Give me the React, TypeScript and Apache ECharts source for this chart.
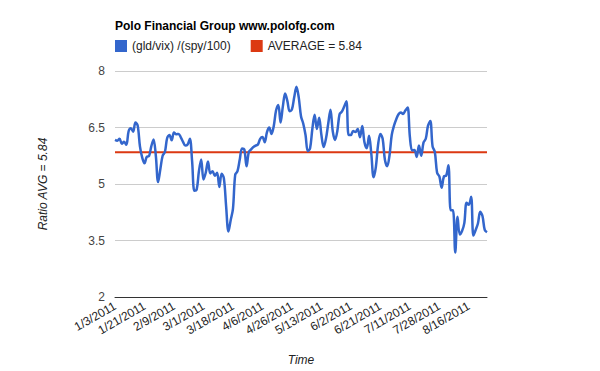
import React, { useEffect, useRef } from "react";
import * as echarts from "echarts";

const TITLE = "Polo Financial Group www.polofg.com";
const SERIES_NAME = "(gld/vix) /(spy/100)";
const AVG_NAME = "AVERAGE = 5.84";
const AVG = 5.84;
const Y_TICKS = [2, 3.5, 5, 6.5, 8];
const HOLIDAYS = ["1/17/2011", "2/21/2011", "4/22/2011", "5/30/2011", "7/4/2011"];

// trading days 1/3/2011 .. 8/26/2011
function tradingDays(): string[] {
  const out: string[] = [];
  const d = new Date(2011, 0, 3);
  const end = new Date(2011, 7, 26);
  while (d <= end) {
    const wd = d.getDay();
    const s = `${d.getMonth() + 1}/${d.getDate()}/${d.getFullYear()}`;
    if (wd !== 0 && wd !== 6 && !HOLIDAYS.includes(s)) out.push(s);
    d.setDate(d.getDate() + 1);
  }
  return out;
}
const dates = tradingDays();

const ratio = [
  6.17, 6.15, 6.2, 6.07, 6.12, 6.04, 6.4, 6.48, 6.39, 6.63,
  6.55, 6.0, 5.7, 5.55, 5.72, 5.74, 6.0, 6.18, 5.75, 5.05,
  5.4, 5.75, 5.85, 6.22, 6.3, 6.16, 6.37, 6.32, 6.33, 6.24,
  6.12, 6.02, 6.05, 6.2, 5.6, 4.82, 4.85, 5.34, 5.65, 5.12,
  5.3, 5.6, 5.28, 5.34, 5.22, 5.3, 4.92, 5.27, 5.15, 4.4,
  3.74, 4.04, 4.34, 5.25, 5.34, 5.65, 5.94, 5.92, 5.47, 5.85,
  5.92, 5.98, 6.02, 6.05, 6.2, 6.25, 6.11, 6.38, 6.5, 6.33,
  6.54, 6.95, 7.1, 6.63, 7.06, 7.4, 7.2, 6.93, 6.98, 7.3,
  7.58, 7.3, 6.8, 6.6, 6.3, 5.87, 5.95, 6.46, 6.84, 6.46,
  6.76, 6.3, 5.98, 6.2, 6.6, 6.97, 6.4, 6.17, 6.4, 6.85,
  6.92, 7.05, 7.2, 6.3, 6.3, 6.41, 6.38, 6.46, 6.24, 6.54,
  6.1, 5.95, 6.28, 5.8, 5.18, 5.45, 6.05, 6.33, 6.2, 5.64,
  5.47, 5.75, 6.3, 6.55, 6.72, 6.85, 6.9, 6.86, 6.95, 7.03,
  6.25, 5.89, 5.9, 5.72, 6.02, 5.75, 6.1, 6.2, 6.55, 6.67,
  6.0, 5.85, 5.3, 5.2, 4.9, 5.2, 5.22, 5.5, 4.3, 4.3,
  3.18, 4.13, 3.66, 3.75, 3.96, 4.5, 4.45, 4.66, 3.63, 3.78,
  3.95, 4.26, 4.15, 3.78, 3.72,
];

export default function App() {
  const ref = useRef<HTMLDivElement>(null);
  useEffect(() => {
    if (!ref.current) return;
    const chart = echarts.init(ref.current, null, { renderer: "svg" });
    const font = "Arial, 'Liberation Sans', sans-serif";
    chart.setOption({
      animation: false,
      backgroundColor: "#ffffff",
      textStyle: { fontFamily: font },
      title: {
        text: TITLE,
        left: 115,
        top: 20,
        padding: 0,
        textStyle: { fontSize: 12, fontWeight: "bold", color: "#000", fontFamily: font },
      },
      legend: {
        left: 115,
        top: 40,
        padding: 0,
        itemWidth: 12,
        itemHeight: 12,
        itemGap: 20,
        icon: "rect",
        textStyle: { fontSize: 12, color: "#222", fontFamily: font },
        data: [SERIES_NAME, AVG_NAME],
      },
      grid: { left: 115, right: 113, top: 71, bottom: 71, containLabel: false },
      xAxis: {
        type: "category",
        data: dates,
        boundaryGap: false,
        name: "Time",
        nameLocation: "middle",
        nameGap: 57,
        nameTextStyle: { fontStyle: "italic", fontSize: 12, color: "#222", fontFamily: font },
        axisLine: { show: true, lineStyle: { color: "#333", width: 1 } },
        axisTick: { show: false },
        splitLine: { show: false },
        axisLabel: {
          interval: 12,
          rotate: 30,
          margin: 8,
          fontSize: 12,
          color: "#222",
          fontFamily: font,
        },
      },
      yAxis: {
        type: "value",
        min: 2,
        max: 8,
        interval: 1.5,
        name: "Ratio AVG = 5.84",
        nameLocation: "middle",
        nameGap: 66,
        nameTextStyle: { fontStyle: "italic", fontSize: 12, color: "#222", fontFamily: font },
        axisLine: { show: false },
        axisTick: { show: false },
        splitLine: { show: true, lineStyle: { color: "#cccccc", width: 1 } },
        axisLabel: {
          margin: 10,
          fontSize: 12,
          color: "#444",
          fontFamily: font,
          formatter: (v: number) => (Y_TICKS.includes(v) ? String(v) : ""),
        },
      },
      series: [
        {
          name: SERIES_NAME,
          type: "line",
          data: ratio,
          smooth: 0.35,
          showSymbol: false,
          symbol: "none",
          color: "#3366cc",
          lineStyle: { color: "#3366cc", width: 2.5 },
          z: 3,
        },
        {
          name: AVG_NAME,
          type: "line",
          data: dates.map(() => AVG),
          showSymbol: false,
          symbol: "none",
          color: "#dc3912",
          lineStyle: { color: "#dc3912", width: 2 },
          z: 2,
        },
      ],
    });
    return () => chart.dispose();
  }, []);
  return (
    <div
      ref={ref}
      style={{ position: "fixed", left: 0, top: 0, width: 600, height: 371, background: "#fff" }}
    />
  );
}
